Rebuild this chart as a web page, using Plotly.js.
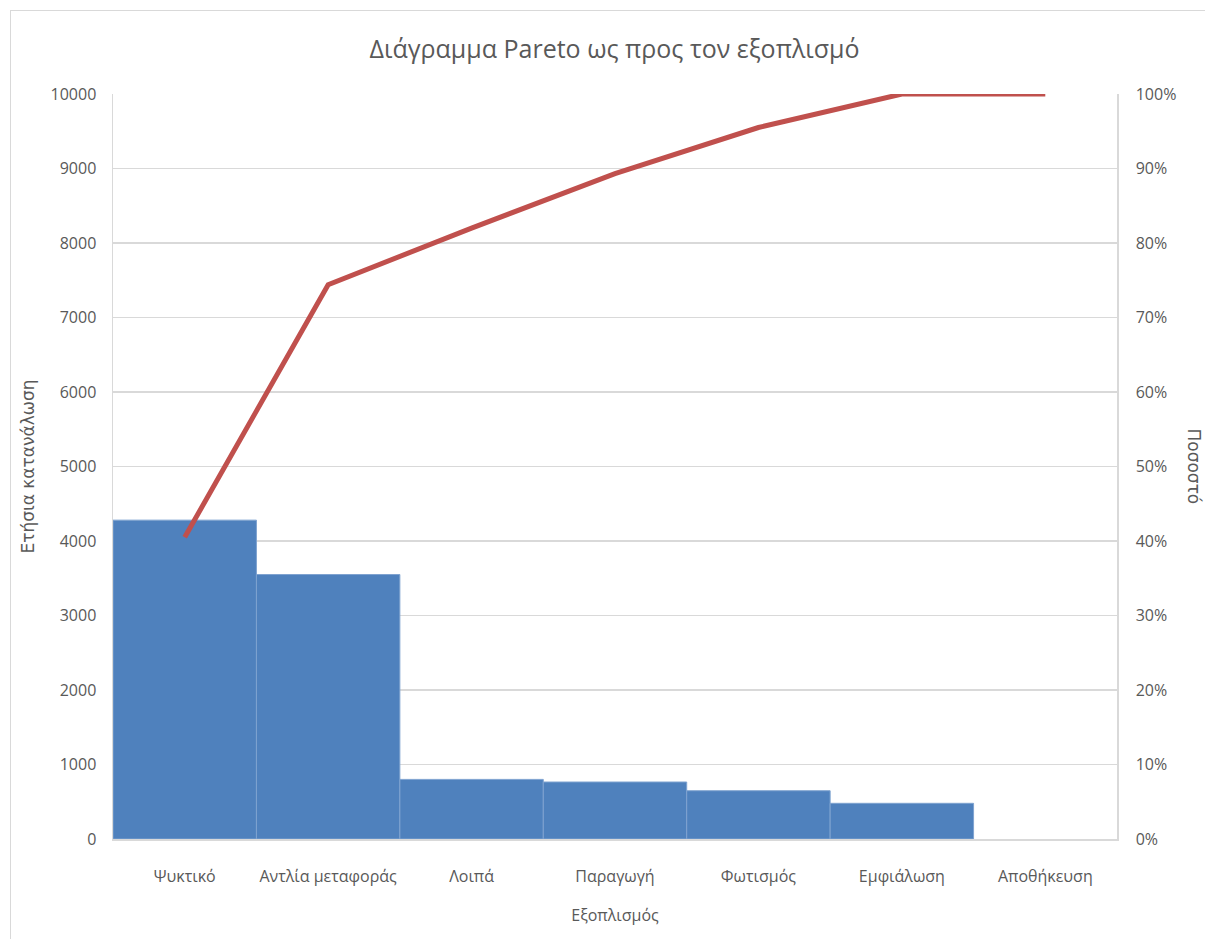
<!DOCTYPE html>
<html>
<head>
<meta charset="utf-8">
<script src="https://cdn.plot.ly/plotly-3.0.1.min.js"></script>
<style>
  html, body { margin: 0; padding: 0; background: #ffffff; overflow: hidden; }
  #frame { position: absolute; left: 10px; top: 10px; width: 1300px; height: 1000px; border: 1px solid #d9d9d9; box-sizing: border-box; }
  #chart { position: absolute; left: 0; top: 0; width: 1205px; height: 939px; }
</style>
</head>
<body>
<div id="frame"></div>
<div id="chart"></div>
<script>
const categories = ["Ψυκτικό", "Αντλία μεταφοράς", "Λοιπά", "Παραγωγή", "Φωτισμός", "Εμφιάλωση", "Αποθήκευση"];
const consumption = [4280, 3550, 800, 765, 648, 479, 0];
const cumulativePercent = [40.5, 74.4, 82.0, 89.3, 95.5, 100, 100];
const leftTicks = [0, 1000, 2000, 3000, 4000, 5000, 6000, 7000, 8000, 9000, 10000];
const rightTicks = [0, 10, 20, 30, 40, 50, 60, 70, 80, 90, 100];

const FONT = '"Liberation Sans Narrow", "Open Sans", "Noto Sans", sans-serif';
const WIDE = '"DejaVu Sans", "Noto Sans", sans-serif';
const TXT = '#595959';

const traces = [
  {
    type: 'bar',
    x: categories,
    y: consumption,
    marker: {
      color: '#4f81bd',
      line: { color: '#7fa3d0', width: consumption.map(v => (v > 0 ? 1 : 0)) }
    },
    hoverinfo: 'x+y'
  },
  {
    type: 'scatter',
    mode: 'lines',
    x: categories,
    y: cumulativePercent,
    yaxis: 'y2',
    line: { color: '#c0504d', width: 5 },
    hoverinfo: 'x+y'
  }
];

const layout = {
  width: 1205,
  height: 939,
  margin: { l: 113, r: 88, t: 94, b: 100 },
  paper_bgcolor: 'rgba(0,0,0,0)',
  plot_bgcolor: 'rgba(0,0,0,0)',
  showlegend: false,
  bargap: 0,
  font: { family: FONT, color: TXT, size: 16 },
  title: {
    text: 'Διάγραμμα Pareto ως προς τον εξοπλισμό',
    font: { family: FONT, size: 25, color: TXT },
    x: 0.51, xanchor: 'center',
    y: 0.948, yanchor: 'middle'
  },
  xaxis: {
    type: 'category',
    showline: true, linecolor: '#d9d9d9', linewidth: 1.5,
    showgrid: false,
    ticks: '',
    ticklabelstandoff: 22,
    tickfont: { family: FONT, size: 16, color: TXT },
    title: { text: 'Εξοπλισμός', font: { family: FONT, size: 16, color: TXT }, standoff: 24 }
  },
  yaxis: {
    range: [0, 10000],
    tickvals: leftTicks,
    ticktext: leftTicks.map(v => String(v)),
    showline: true, linecolor: '#d9d9d9', linewidth: 1.5,
    gridcolor: '#d9d9d9', gridwidth: 1.5,
    zeroline: false,
    ticks: '',
    ticklabelstandoff: 12,
    tickfont: { family: FONT, size: 16, color: TXT },
    title: { text: 'Ετήσια κατανάλωση', font: { family: WIDE, size: 17, color: TXT }, standoff: 11 }
  },
  yaxis2: {
    overlaying: 'y',
    side: 'right',
    range: [0, 100],
    tickvals: rightTicks,
    ticktext: rightTicks.map(v => v + '%'),
    showline: true, linecolor: '#d9d9d9', linewidth: 1.5,
    showgrid: false,
    zeroline: false,
    ticks: '',
    ticklabelstandoff: 14,
    tickfont: { family: FONT, size: 16, color: TXT }
  },
  annotations: [
    {
      text: 'Ποσοστό',
      xref: 'paper', yref: 'paper',
      x: 1.0, xshift: 77, y: 0.5,
      xanchor: 'center', yanchor: 'middle',
      textangle: 90,
      showarrow: false,
      font: { family: WIDE, size: 17, color: TXT }
    }
  ]
};

Plotly.newPlot('chart', traces, layout, { displayModeBar: false, staticPlot: true });
</script>
</body>
</html>
